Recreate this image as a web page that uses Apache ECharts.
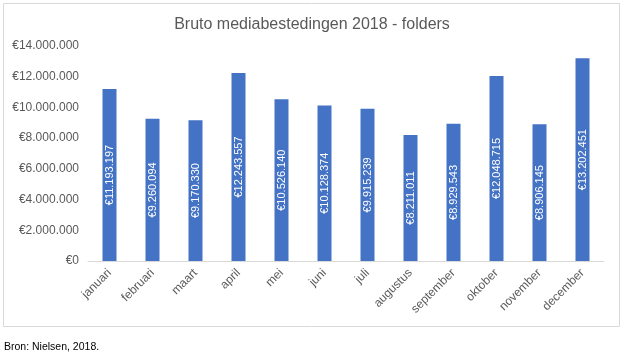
<!DOCTYPE html>
<html><head><meta charset="utf-8">
<script src="https://cdn.jsdelivr.net/npm/echarts@6/dist/echarts.min.js"></script>
<style>html,body{margin:0;padding:0;background:#fff}#c{width:624px;height:363px}</style>
</head><body><div id="c"></div>
<script>
const categories = ['januari','februari','maart','april','mei','juni','juli','augustus','september','oktober','november','december'];
const values = [11193197, 9260094, 9170330, 12243557, 10526140, 10128374, 9915239, 8211011, 8929543, 12048715, 8906145, 13202451];
const titleText = 'Bruto mediabestedingen 2018 - folders';
const sourceText = 'Bron: Nielsen, 2018.';

function euro(v){ return '€' + String(Math.round(v)).replace(/\B(?=(\d{3})+(?!\d))/g, '.'); }

const chart = echarts.init(document.getElementById('c'), null, {renderer:'canvas'});
const font = 'Liberation Sans, Arial, sans-serif';
chart.setOption({
  animation:false,
  textStyle:{fontFamily:font},
  title:{text:titleText,left:'center',top:12,textStyle:{fontFamily:font,fontSize:16,fontWeight:'normal',color:'#595959'}},
  graphic:[
    {type:'rect',shape:{x:3.5,y:3.5,width:616,height:323},style:{fill:'none',stroke:'#d9d9d9',lineWidth:1},silent:true,z:-1},
    {type:'text',left:4,top:342,style:{text:sourceText,font:'10.5px '+font,fill:'#000'}}
  ],
  grid:{left:88,right:20,top:46,bottom:102,containLabel:false},
  xAxis:{type:'category',data:categories,
    axisLine:{lineStyle:{color:'#d9d9d9'}},axisTick:{show:false},
    axisLabel:{rotate:45,color:'#595959',fontSize:12,fontFamily:font,interval:0,margin:10}},
  yAxis:{type:'value',min:0,max:14000000,interval:2000000,
    axisLine:{show:false},axisTick:{show:false},splitLine:{show:false},
    axisLabel:{color:'#595959',fontSize:12,fontFamily:font,margin:9,formatter:euro}},
  series:[{type:'bar',data:values,barWidth:14,itemStyle:{color:'#4472c4'},
    label:{show:true,position:'inside',rotate:90,color:'#fff',fontSize:11,fontFamily:font,formatter:p=>euro(p.value)}}]
});
</script></body></html>
